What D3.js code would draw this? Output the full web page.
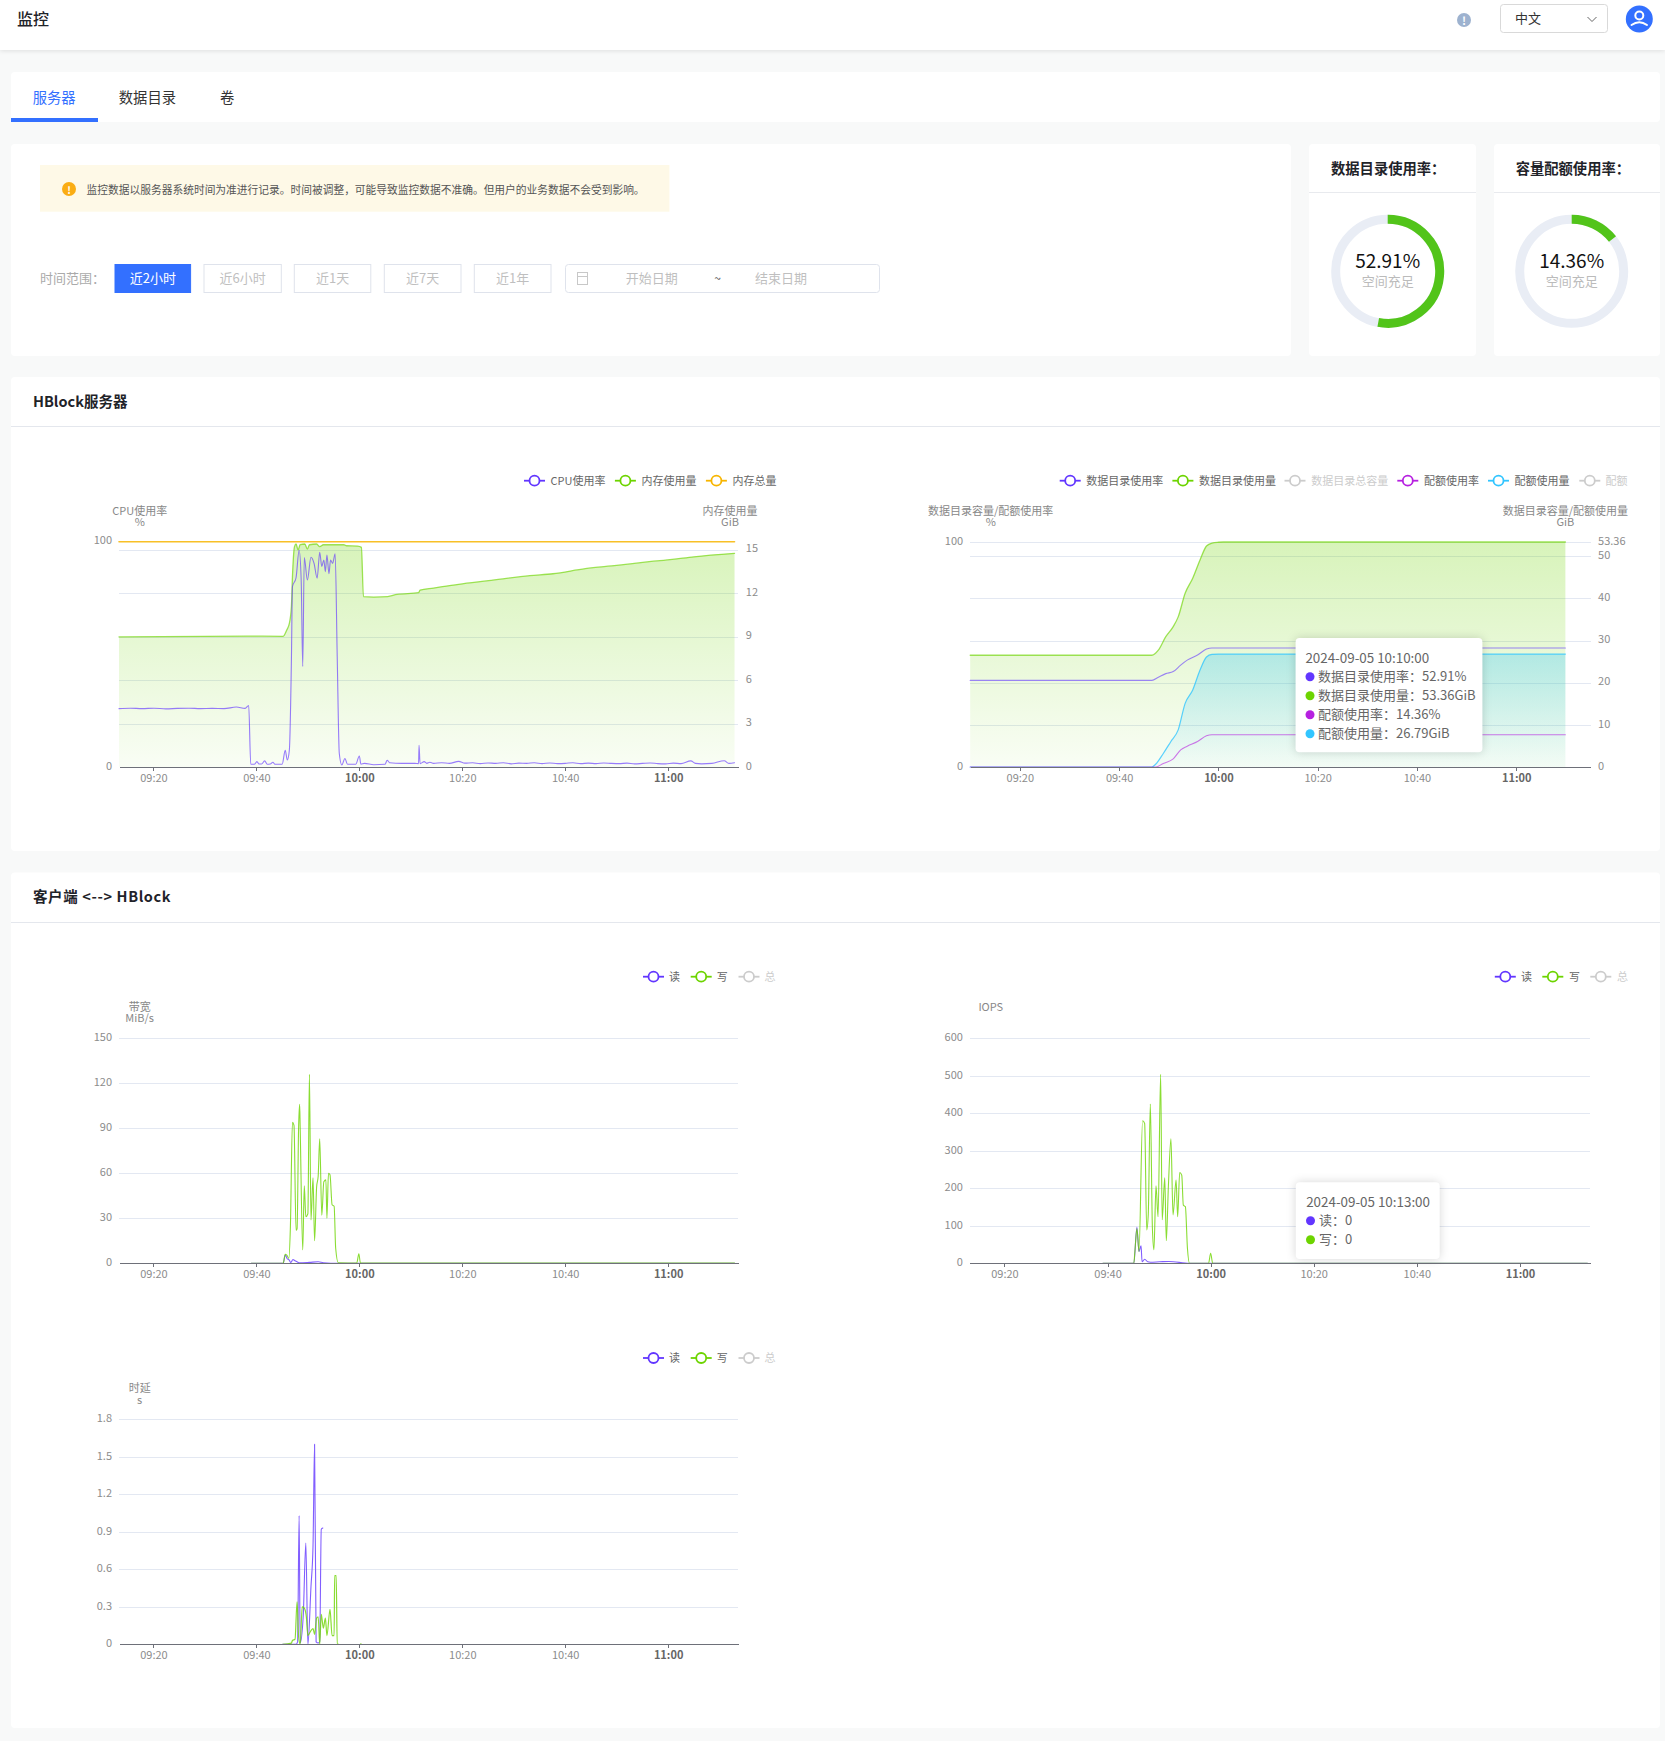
<!DOCTYPE html>
<html lang="zh-CN">
<head>
<meta charset="utf-8">
<title>监控</title>
<script src="https://cdn.jsdelivr.net/npm/d3@7"></script>
<style>
html,body{margin:0;padding:0;background:#f8f9f9}
svg{display:block}
text{font-family:"Noto Sans CJK SC","Noto Sans",sans-serif}
.axis path,.axis line{shape-rendering:crispEdges}
</style>
</head>
<body>
<script>
// ---------- text ----------
const tabLabels = ["服务器", "数据目录", "卷"];
const rangeLabels = ["近2小时", "近6小时", "近1天", "近7天", "近1年"];
const noticeText = "监控数据以服务器系统时间为准进行记录。时间被调整，可能导致监控数据不准确。但用户的业务数据不会受到影响。";
const timeTickValues = [20, 40, 60, 80, 100, 120];            // minutes after 09:00
const timeTickLabels = ["09:20", "09:40", "10:00", "10:20", "10:40", "11:00"];
const boldTicks = ["10:00", "11:00"];

// ---------- gauges ----------
const dirUsagePercent = 52.91;
const quotaUsagePercent = 14.36;

// ---------- chart 1: CPU / memory ----------
const cpuTicks = [0, 100];
const memTicks = [0, 3, 6, 9, 12, 15];
const memMax = 15.54;
const cpuT = [13.3,15.5,17.8,20.1,22.4,24.6,26.9,29.1,31.4,33.7,36.1,37.8,38.5,38.9,39.6,40.1,40.5,41,41.6,42.1,42.7,43.2,43.6,45,45.6,46,46.4,46.8,47,47.7,48.3,48.7,49,49.3,49.9,50.6,51.2,51.8,52.3,52.7,53.1,53.4,53.7,54.1,54.4,54.8,55.3,55.7,56.1,56.6,57.2,57.7,59.3,60,60.3,61,62.8,65,65.4,65.9,68.2,70.8,71.5,71.6,71.8,72.6,73.1,73.7,74.4,76,77.5,79.3,80.5,82,83.5,85,86.5,88,89.5,91,92.5,94,95.5,97,98.5,100,101.5,103,104.5,106,107.5,109,110.5,112,113.5,115,116.5,118,119.5,121,122.5,124.4,125.3,126.5,128.5,130.9,131.8,132.9];
const cpuV = [25.9,26.1,25.9,26.1,25.8,26,26.1,25.9,26,25.9,26.6,26,27.3,1.2,1.2,2.4,1.3,1.3,2.7,1.2,1.3,2.1,1.2,1.2,7.4,3.1,7.5,47.5,80,84,96.3,83,44.6,93,83,93.1,90.4,83.8,95.3,89,91.9,86.7,94.1,85.8,91.9,90.4,94.6,49,6.1,0.9,3.8,1.2,1.2,4.9,1.2,1.6,1,1.2,3,1.9,1.6,1.6,1.5,9.6,1.5,2.4,1.6,2.1,1.6,1.9,1.6,2.5,1.7,1.9,1.5,1.8,1.6,1.9,1.4,1.7,1.6,1.9,1.5,1.8,1.5,1.6,1.9,1.5,1.7,1.5,1.8,1.6,1.5,1.7,1.4,1.6,1.8,1.5,1.4,1.7,1.5,2.7,1.6,1.4,1.6,2.8,1.6,1.9];
const memT = [13.3,38.3,45.2,45.9,46.4,46.8,47,47.4,47.7,48.1,48.5,49.4,49.9,50.3,51.7,52.3,53,57,57.5,59.7,60.4,60.8,62.8,65.5,67.3,71.5,71.8,74.4,79.3,85.1,93.1,97.6,103.9,110,116.3,120.8,125,132.9];
const memV = [8.97,9.03,9.01,9.45,9.9,11.06,13.1,15.2,15.38,14.97,15.33,15.38,15.03,15.33,15.38,15.2,15.33,15.33,15.26,15.24,15.15,11.75,11.72,11.75,11.9,12.02,12.2,12.34,12.6,12.85,13.2,13.33,13.68,13.9,14.16,14.32,14.5,14.74];
const memTotalT = [13.3, 132.9];
const memTotalV = [15.54, 15.54];

// ---------- chart 2: data directory / quota ----------
const dirRateTicks = [0, 100];
const dirGibTicks = [0, 10, 20, 30, 40, 50, 53.36];
const dirGibMax = 53.36;
const dirUsedT = [10,46.6,47.9,49.4,50.9,51.9,53.3,54.8,56.3,57.6,58.7,60,61,129.9];
const dirUsedV = [26.5,26.5,27.7,30.9,33.3,35.6,41.2,44.7,49.1,52.4,53.1,53.3,53.36,53.36];
const dirRateT = [10,46.6,47.9,49.4,50.9,52.4,53.8,55.8,57.6,58.7,60,129.9];
const dirRateV = [38.5,38.5,39.9,41.5,42.4,45.3,47.6,49.8,52.4,52.9,52.91,52.91];
const quotaUsedT = [10,46.6,47.4,48.9,50.4,51.9,53.3,54.8,56.3,57.6,58.7,60,129.9];
const quotaUsedV = [0,0,0.7,3.2,6,8.8,15.1,18.2,23,26.1,26.7,26.79,26.79];
const quotaRateT = [10,47.4,48.9,50.9,52.4,53.8,55.8,57.6,58.7,60,129.9];
const quotaRateV = [0,0,1.6,3.6,7.6,9.3,11.3,13.9,14.36,14.36,14.36];

// ---------- chart 3: bandwidth ----------
const bwTicks = [0, 30, 60, 90, 120, 150];
const bwWriteT = [39,45.2,45.6,45.9,46.3,46.6,47,47.3,47.7,47.9,48.2,48.4,48.5,49,49.3,49.6,50,50.3,50.6,51,51.3,51.7,52,52.3,52.7,53.1,53.5,53.7,54,54.3,54.7,55.1,55.4,55.9,59.5,59.9,60.2,132.9];
const bwWriteV = [0,0,6,5.5,3.3,24,94,92,22,23,91,106,91,8.9,51.6,31,33,126,28.9,57,15,51,58,83,32,54.4,55.6,30,60,59,39,38,10,0.4,0.2,6.4,0.3,0.2];
const bwReadT = [39,45.2,45.6,46,46.3,46.7,47.1,47.5,47.9,48.4,50.3,52,53,55.9,132.9];
const bwReadV = [0,0,5.5,3,2.5,0.5,2.5,1.7,1,0.3,0.6,1,0.4,0,0];

// ---------- chart 4: IOPS ----------
const iopsTicks = [0, 100, 200, 300, 400, 500, 600];
const iopsWriteT = [39.1,45.1,45.3,45.7,46.1,46.8,47.2,47.6,47.9,48.3,48.7,49,49.4,49.8,50.3,50.6,51.1,51.4,51.8,52.3,52.7,53.3,53.6,54,54.4,54.7,55.1,55.5,55.9,59.6,60,60.4,133.1];
const iopsWriteV = [0,0,30,93,31,380,373,89,130,425,95,36,207,124,504,116,228,60,204,332,129,222,124,242,235,155,151,40,0,0,27,0,0];
const iopsReadT = [39.1,45.1,45.7,46.1,46.5,46.7,47.2,47.8,48.3,50.1,51.9,55.9,133.1];
const iopsReadV = [0,0,96,31,47,4,11,4,3,4,5,0,0];

// ---------- chart 5: latency ----------
const latencyTicks = [0, 0.3, 0.6, 0.9, 1.2, 1.5, 1.8];
const latReadT = [45.1,47.7,48,48.3,48.5,49.1,49.6,50,50.6,51,51.3,51.6,52,52.3,52.6,52.9];
const latReadV = [0,0,0.02,1.03,0.01,0.23,0.81,0,0.46,0.79,1.6,0.02,0.01,0.02,0.92,0.93];
const latWriteT = [45.1,46.8,47,47.5,47.9,48.2,48.5,48.9,49.3,49.7,50,50.6,51,51.3,51.7,52,52.3,52.6,53,53.4,53.7,54.3,54.7,55.1,55.2,55.5,55.7,56,59.8,60.3];
const latWriteV = [0,0.01,0.03,0.04,0.34,0.06,0,0.3,0.29,0.22,0.07,0.11,0.125,0.08,0.21,0.22,0,0.24,0.13,0.21,0.07,0.28,0.07,0.07,0.55,0.55,0,0,null,0.005];

// ---------- tooltips ----------
const tipDirTitle = "2024-09-05 10:10:00";
const tipDirRows = ["数据目录使用率：52.91%", "数据目录使用量：53.36GiB", "配额使用率：14.36%", "配额使用量：26.79GiB"];
const tipIopsTitle = "2024-09-05 10:13:00";
const tipIopsRows = ["读：0", "写：0"];

// ---------- palette ----------
const PURPLE="#6236ff", GREEN="#6dd400", ORANGE="#f7b500", MAGENTA="#b620e0", CYAN="#32c5ff", MUTED="#cccccc", BLUE="#3370ff";

const svg = d3.select("body").append("svg").attr("width",1665).attr("height",1741).attr("viewBox","0 0 1665 1741");
const defs = svg.append("defs");

function gradient(id,color,a0,a1){
  const g=defs.append("linearGradient").attr("id",id).attr("x1",0).attr("y1",0).attr("x2",0).attr("y2",1);
  g.append("stop").attr("offset","0%").attr("stop-color",color).attr("stop-opacity",a0);
  g.append("stop").attr("offset","100%").attr("stop-color",color).attr("stop-opacity",a1);
}
gradient("gGreen",GREEN,0.27,0.04);
gradient("gCyan",CYAN,0.3,0.03);

function box(x0,y0,x1,y1,fill,o={}){
  return svg.append("rect").attr("x",x0).attr("y",y0).attr("width",x1-x0).attr("height",y1-y0)
    .attr("rx",o.r||0).attr("fill",fill).attr("stroke",o.stroke||"none").attr("stroke-width",o.sw||1)
    .style("filter",o.shadow||null);
}
function label(x,y,t,o={}){
  const s=svg.append("text").attr("x",x).attr("y",y-0.9).text(t)
    .attr("dominant-baseline","central").attr("text-anchor",o.anchor||"start")
    .attr("font-size",o.size||11).attr("fill",o.fill||"#666").attr("font-weight",o.weight||400);
  if(o.len) s.attr("textLength",o.len).attr("lengthAdjust",o.adjust||"spacingAndGlyphs");
  return s;
}
function hline(x0,x1,y,c){ svg.append("line").attr("x1",x0).attr("x2",x1).attr("y1",y).attr("y2",y).attr("stroke",c).attr("stroke-width",1); }

// ---------- header ----------
box(0,0,1665,50,"#fff",{shadow:"drop-shadow(0 1px 2px rgba(0,0,0,.10))"});
label(17,18.5,"监控",{size:16,fill:"#1f2329",weight:500});
svg.append("circle").attr("cx",1464).attr("cy",20).attr("r",7).attr("fill","#9db2cf");
label(1464,20.9,"!",{size:11,fill:"#fff",anchor:"middle",weight:700});
box(1500.5,4.5,1607.5,32.5,"#fff",{r:3,stroke:"#d9d9d9"});
label(1515,18.5,"中文",{size:13,fill:"#333"});
svg.append("path").attr("d",d3.line()([[1587.5,17],[1592,21.5],[1596.5,17]])).attr("fill","none").attr("stroke","#666");
svg.append("circle").attr("cx",1639.3).attr("cy",19).attr("r",13.5).attr("fill",BLUE);
svg.append("circle").attr("cx",1639.3).attr("cy",15.5).attr("r",4).attr("fill","none").attr("stroke","#fff").attr("stroke-width",2);
svg.append("path").attr("d","M1631.5 25 Q1639.3 19.5 1647 25").attr("fill","none").attr("stroke","#fff").attr("stroke-width",2).attr("stroke-linecap","round");

// ---------- tabs ----------
box(11,72,1660,122,"#fff",{r:4});
box(11,118,98,122,BLUE);
label(32.7,97,tabLabels[0],{size:14.3,fill:BLUE});
label(118.8,97,tabLabels[1],{size:14.3,fill:"#333"});
label(220,97,tabLabels[2],{size:14.3,fill:"#333"});

// ---------- filter card ----------
box(11,144,1291,356,"#fff",{r:4});
box(40,165,669.4,211.7,"#fef9e7");
svg.append("circle").attr("cx",69).attr("cy",189).attr("r",7).attr("fill","#faad14");
label(69,189.9,"!",{size:10,fill:"#fff",anchor:"middle",weight:700});
label(86.6,189.6,noticeText,{size:11,fill:"#555",len:558});
label(40,278,"时间范围：",{size:13,fill:"#aaa"});
const btnX=[[115,190.6],[204,281.3],[294.3,370.8],[384.3,461],[474.3,551]];
rangeLabels.forEach((t,i)=>{
  const [a,b]=btnX[i], on=i===0;
  box(a,264.5,b,292.5,on?BLUE:"#fff",{stroke:on?BLUE:"#dfe3ec"});
  label((a+b)/2,278,t,{size:13,fill:on?"#fff":"#bfbfbf",anchor:"middle"});
});
box(565.5,264.5,879.5,292.5,"#fff",{r:3,stroke:"#dfe3ec"});
box(577.5,272.5,587.5,284.5,"none",{stroke:"#c8c8c8"});
hline(577.5,587.5,276.5,"#c8c8c8");
label(625.7,278,"开始日期",{size:13,fill:"#bfbfbf"});
label(717.6,278,"~",{size:12,fill:"#555",anchor:"middle"});
label(755,278,"结束日期",{size:13,fill:"#bfbfbf"});

// ---------- gauges ----------
function gauge(x0,x1,cx,title,titleX,val){
  box(x0,144,x1,356,"#fff",{r:4});
  hline(x0,x1,192.5,"#e8eaee");
  label(titleX,168,title,{size:14.3,fill:"#1f2329",weight:700});
  const a=d3.arc().innerRadius(52).outerRadius(52).startAngle(0);
  const g=svg.append("g").attr("transform",`translate(${cx},271.3)`);
  g.append("circle").attr("r",52).attr("fill","none").attr("stroke","#e9edf5").attr("stroke-width",9);
  g.append("path").attr("d",a({endAngle:2*Math.PI*val/100})).attr("fill","none")
    .attr("stroke","#52c41a").attr("stroke-width",9).attr("stroke-linecap","round");
  label(cx,260,val.toFixed(2)+"%",{size:19,fill:"#111",anchor:"middle"});
  label(cx,281,"空间充足",{size:13,fill:"#bbb",anchor:"middle"});
}
gauge(1309,1476,1387.7,"数据目录使用率：",1331,dirUsagePercent);
gauge(1494,1660,1571.7,"容量配额使用率：",1515.7,quotaUsagePercent);

// ---------- section cards ----------
box(11,377,1660,851,"#fff",{r:4});
hline(11,1660,426.5,"#e4e7ed");
label(33,401.5,"HBlock服务器",{size:14.5,fill:"#1f2329",weight:700});
box(11,872.5,1660,1728,"#fff",{r:4});
hline(11,1660,922.5,"#e4e7ed");
label(33,896,"客户端 <--> HBlock",{size:14.5,fill:"#1f2329",weight:700,len:137.6,adjust:"spacing"});

// ---------- chart helpers ----------
function pts(ts,vs){ return ts.map((t,i)=>({t,v:vs[i]})); }
function legend(y,items){
  items.forEach(it=>{
    const c=it.off?MUTED:it.color;
    svg.append("line").attr("x1",it.x-10.5).attr("x2",it.x+10.5).attr("y1",y).attr("y2",y).attr("stroke",c).attr("stroke-width",1.8);
    svg.append("circle").attr("cx",it.x).attr("cy",y).attr("r",5).attr("fill","#fff").attr("stroke",c).attr("stroke-width",1.8);
    label(it.tx,y,it.name,{size:11,fill:it.off?MUTED:"#666"});
  });
}
function plotFrame(c){
  const x=d3.scaleLinear().domain(c.domain).range([c.l,c.r]);
  const g=svg.append("g");
  const gr=g.append("g").attr("class","axis").attr("transform",`translate(${c.l},0)`)
    .call(d3.axisLeft(c.grid.scale).tickValues(c.grid.ticks).tickSize(-(c.r-c.l)).tickFormat(""));
  gr.select(".domain").remove();
  gr.selectAll("line").attr("stroke","#e3e8f2").attr("stroke-width",1);
  return {x,g};
}
function styleTicks(sel){
  sel.selectAll("text").attr("font-size",11).attr("fill","#8c8c8c")
    .attr("font-family",'"Noto Sans CJK SC",sans-serif').attr("dy","0.2em");
}
function finishAxes(c,x,g){
  const ax=g.append("g").attr("class","axis").attr("transform",`translate(0,${c.y0})`)
    .call(d3.axisBottom(x).tickValues(timeTickValues).tickFormat((d,i)=>timeTickLabels[i]).tickSize(4).tickPadding(3).tickSizeOuter(0));
  ax.select(".domain").attr("stroke","#6e7079");
  ax.selectAll("line").attr("stroke","#6e7079");
  ax.selectAll("text").attr("font-size",11).attr("font-family",'"Noto Sans CJK SC",sans-serif').attr("fill","#8c8c8c")
    .each(function(d,i){ if(boldTicks.includes(timeTickLabels[i])) d3.select(this).attr("font-weight",700).attr("fill","#666"); });
  const left=g.append("g").attr("class","axis").attr("transform",`translate(${c.l},0)`)
    .call(d3.axisLeft(c.yL).tickValues(c.ticksL).tickFormat(String).tickSize(0).tickPadding(7));
  left.select(".domain").remove();
  styleTicks(left);
  if(c.yR){
    const right=g.append("g").attr("class","axis").attr("transform",`translate(${c.r},0)`)
      .call(d3.axisRight(c.yR).tickValues(c.ticksR).tickFormat(String).tickSize(0).tickPadding(7.4));
    right.select(".domain").remove();
    styleTicks(right);
  }
}
function drawLine(g,x,y,data,color,w,op){
  const line=d3.line().defined(d=>d.v!=null).x(d=>x(d.t)).y(d=>y(d.v)).curve(d3.curveMonotoneX);
  g.append("path").datum(data).attr("d",line).attr("fill","none").attr("stroke",color)
    .attr("stroke-width",w||1.1).attr("stroke-opacity",op==null?0.75:op).attr("stroke-linecap","round");
}
function drawArea(g,x,y,data,fillId){
  const area=d3.area().x(d=>x(d.t)).y0(y(0)).y1(d=>y(d.v)).curve(d3.curveMonotoneX);
  g.append("path").datum(data).attr("d",area).attr("fill",`url(#${fillId})`);
}
function axisName(cx,y1,t1,y2,t2){
  label(cx,y1,t1,{size:11,fill:"#888",anchor:"middle"});
  if(t2) label(cx,y2,t2,{size:11,fill:"#888",anchor:"middle"});
}
function tooltip(x0,y0,x1,y1,titleX,titleY,title,rows,colors,dotX,textX,step){
  box(x0,y0,x1,y1,"#fff",{r:4,shadow:"drop-shadow(0 0 5px rgba(0,0,0,.16))"});
  label(titleX,titleY+0.5,title,{size:13.4,fill:"#666"});
  rows.forEach((r,i)=>{
    const y=titleY+step*(i+1);
    svg.append("circle").attr("cx",dotX).attr("cy",y+0.5).attr("r",4.5).attr("fill",colors[i]);
    label(textX,y+0.5,r,{size:13,fill:"#666"});
  });
}

// ---------- chart 1 ----------
(function(){
  const y0=767,yT=541.7;
  const yL=d3.scaleLinear().domain([0,100]).range([y0,yT]);
  const yR=d3.scaleLinear().domain([0,memMax]).range([y0,yT]);
  const c={l:119,r:738.4,y0,domain:[13.3,133.65],grid:{scale:yR,ticks:memTicks.slice(1)},yL,yR,ticksL:cpuTicks,ticksR:memTicks};
  const {x,g}=plotFrame(c);
  const mem=pts(memT,memV);
  drawArea(g,x,yR,mem,"gGreen");
  drawLine(g,x,yR,pts(memTotalT,memTotalV),ORANGE,1.6,0.85);
  drawLine(g,x,yR,mem,GREEN,1.3,0.65);
  drawLine(g,x,yL,pts(cpuT,cpuV),PURPLE,1.1,0.65);
  finishAxes(c,x,g);
  axisName(139.7,511,"CPU使用率",521.7,"%");
  axisName(730,511,"内存使用量",521.7,"GiB");
  legend(480.7,[
    {x:534.5,tx:550.6,name:"CPU使用率",color:PURPLE},
    {x:625.4,tx:641.5,name:"内存使用量",color:GREEN},
    {x:716.4,tx:732.4,name:"内存总量",color:ORANGE}]);
})();

// ---------- chart 2 ----------
(function(){
  const y0=767,yT=542;
  const yL=d3.scaleLinear().domain([0,100]).range([y0,yT]);
  const yR=d3.scaleLinear().domain([0,dirGibMax]).range([y0,yT]);
  const c={l:970.2,r:1590.7,y0,domain:[10,135],grid:{scale:yR,ticks:dirGibTicks.slice(1)},yL,yR,ticksL:dirRateTicks,ticksR:dirGibTicks};
  const {x,g}=plotFrame(c);
  const used=pts(dirUsedT,dirUsedV), qUsed=pts(quotaUsedT,quotaUsedV);
  drawArea(g,x,yR,used,"gGreen");
  drawArea(g,x,yR,qUsed,"gCyan");
  drawLine(g,x,yR,used,GREEN,1.3,0.65);
  drawLine(g,x,yL,pts(dirRateT,dirRateV),PURPLE,1.1,0.6);
  drawLine(g,x,yR,qUsed,CYAN,1.2,0.8);
  drawLine(g,x,yL,pts(quotaRateT,quotaRateV),MAGENTA,1.1,0.6);
  finishAxes(c,x,g);
  axisName(990.7,511,"数据目录容量/配额使用率",521.7,"%");
  axisName(1565.4,511,"数据目录容量/配额使用量",521.7,"GiB");
  legend(480.7,[
    {x:1070.2,tx:1086.3,name:"数据目录使用率",color:PURPLE},
    {x:1182.9,tx:1199,name:"数据目录使用量",color:GREEN},
    {x:1295,tx:1311.2,name:"数据目录总容量",off:true},
    {x:1407.8,tx:1423.9,name:"配额使用率",color:MAGENTA},
    {x:1498.5,tx:1514.6,name:"配额使用量",color:CYAN},
    {x:1589.8,tx:1605.4,name:"配额",off:true}]);
  tooltip(1295.6,638,1482.4,752.3,1305.4,657.3,tipDirTitle,tipDirRows,[PURPLE,GREEN,MAGENTA,CYAN],1310,1318,19);
})();

// ---------- charts 3-5 ----------
function smallChart(o){
  const y=d3.scaleLinear().domain([0,o.max]).range([o.y0,o.yT]);
  const c={l:o.l,r:o.r,y0:o.y0,domain:[13.3,133.65],grid:{scale:y,ticks:o.ticks.slice(1)},yL:y,ticksL:o.ticks};
  const {x,g}=plotFrame(c);
  o.series.forEach(s=>drawLine(g,x,y,s.data,s.color,s.w,s.op));
  finishAxes(c,x,g);
  axisName(o.nameX,o.nameY,o.name,o.unitY,o.unit);
  legend(o.legY,o.legX.map((lx,i)=>({x:lx,tx:o.legT[i],name:["读","写","总"][i],color:[PURPLE,GREEN][i],off:i===2})));
}
smallChart({l:119,r:738.4,y0:1263.3,yT:1038.3,max:150,ticks:bwTicks,name:"带宽",unit:"MiB/s",nameX:139.7,nameY:1007,unitY:1018,
  legY:976.7,legX:[653.5,701.2,749],legT:[669,716.8,764.6],
  series:[{data:pts(bwReadT,bwReadV),color:PURPLE,w:1.1,op:0.8},{data:pts(bwWriteT,bwWriteV),color:GREEN,w:1.1,op:0.8}]});
smallChart({l:969.9,r:1590.3,y0:1263.3,yT:1038.3,max:600,ticks:iopsTicks,name:"IOPS",nameX:990.8,nameY:1007,
  legY:976.7,legX:[1505.3,1552.8,1600.8],legT:[1521,1569,1617],
  series:[{data:pts(iopsReadT,iopsReadV),color:PURPLE,w:1.1,op:0.8},{data:pts(iopsWriteT,iopsWriteV),color:GREEN,w:1.1,op:0.8}]});
smallChart({l:119,r:738.4,y0:1644.3,yT:1419.3,max:1.8,ticks:latencyTicks,name:"时延",unit:"s",nameX:139.7,nameY:1388,unitY:1400,
  legY:1358,legX:[653.5,701.2,749],legT:[669,716.8,764.6],
  series:[{data:pts(latReadT,latReadV),color:PURPLE,w:1.1,op:0.8},{data:pts(latWriteT,latWriteV),color:GREEN,w:1.2,op:0.8}]});
tooltip(1295.8,1182.3,1439.7,1259,1306.2,1201.3,tipIopsTitle,tipIopsRows,[PURPLE,GREEN],1310.5,1319,19);
</script>
</body>
</html>
